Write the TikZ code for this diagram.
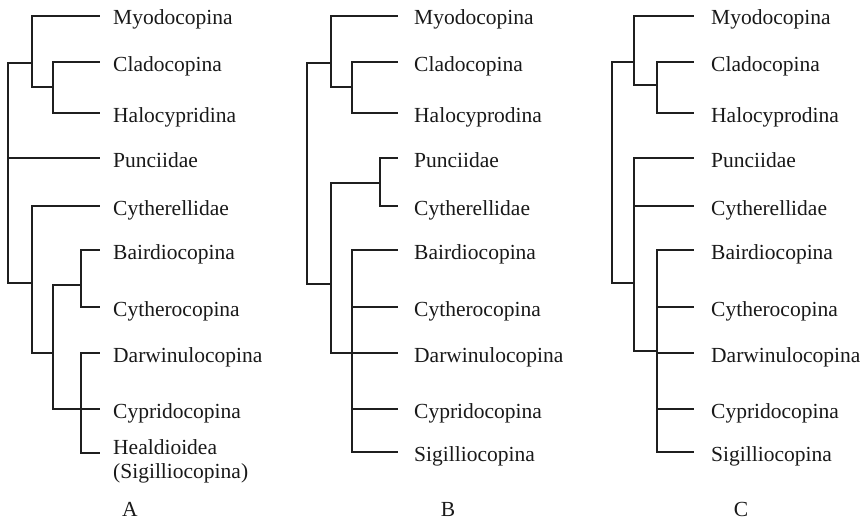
\documentclass[tikz,border=0pt]{standalone}
\usepackage{fontspec}
\setmainfont{Liberation Serif}
\begin{document}
\begin{tikzpicture}[x=1pt,y=-1pt,
  branch/.style={draw=black!88,line width=2.2pt,line cap=rect},
  leaf/.style={anchor=base west,inner sep=0pt,text=black!90,font=\fontsize{21.5}{24}\selectfont},
  panel/.style={anchor=base,inner sep=0pt,text=black!90,font=\fontsize{21.5}{24}\selectfont}]
\useasboundingbox (0,0) rectangle (865,519);
% ================= Tree A =================
\coordinate (Ar) at (8,158);
\coordinate (An1) at (32,63);
\coordinate (An2) at (53,87);
\coordinate (An3) at (32,283);
\coordinate (An4) at (53,353);
\coordinate (An5) at (81,285);
\coordinate (An6) at (81,409);
\coordinate (At1) at (99,16);
\coordinate (At2) at (99,62);
\coordinate (At3) at (99,113);
\coordinate (At4) at (99,158);
\coordinate (At5) at (99,206);
\coordinate (At6) at (99,250);
\coordinate (At7) at (99,307);
\coordinate (At8) at (99,353);
\coordinate (At9) at (99,409);
\coordinate (At10) at (99,453);
\node[leaf] (AL1) at (113,25) {Myodocopina};
\node[leaf] (AL2) at (113,71) {Cladocopina};
\node[leaf] (AL3) at (113,122) {Halocypridina};
\node[leaf] (AL4) at (113,167) {Punciidae};
\node[leaf] (AL5) at (113,215) {Cytherellidae};
\node[leaf] (AL6) at (113,259) {Bairdiocopina};
\node[leaf] (AL7) at (113,316) {Cytherocopina};
\node[leaf] (AL8) at (113,362) {Darwinulocopina};
\node[leaf] (AL9) at (113,418) {Cypridocopina};
\node[leaf] (AL10) at (113,454) {Healdioidea};
\node[leaf] (AL10b) at (113,478) {(Sigilliocopina)};
\draw[branch] (Ar) |- (An1);
\draw[branch] (Ar) |- (At4);
\draw[branch] (Ar) |- (An3);
\draw[branch] (An1) |- (At1);
\draw[branch] (An1) |- (An2);
\draw[branch] (An2) |- (At2);
\draw[branch] (An2) |- (At3);
\draw[branch] (An3) |- (At5);
\draw[branch] (An3) |- (An4);
\draw[branch] (An4) |- (An5);
\draw[branch] (An4) |- (An6);
\draw[branch] (An5) |- (At6);
\draw[branch] (An5) |- (At7);
\draw[branch] (An6) |- (At8);
\draw[branch] (An6) |- (At9);
\draw[branch] (An6) |- (At10);
\node[panel] (PA) at (130,516) {A};
% ================= Tree B =================
\coordinate (Br) at (307,173);
\coordinate (Bn1) at (331,63);
\coordinate (Bn2) at (352,87);
\coordinate (Bn3) at (331,284);
\coordinate (Bn7) at (380,183);
\coordinate (Bn8) at (352,353);
\coordinate (Bt1) at (397,16);
\coordinate (Bt2) at (397,62);
\coordinate (Bt3) at (397,113);
\coordinate (Bt4) at (397,158);
\coordinate (Bt5) at (397,206);
\coordinate (Bt6) at (397,250);
\coordinate (Bt7) at (397,307);
\coordinate (Bt8) at (397,353);
\coordinate (Bt9) at (397,409);
\coordinate (Bt10) at (397,452);
\node[leaf] (BL1) at (414,25) {Myodocopina};
\node[leaf] (BL2) at (414,71) {Cladocopina};
\node[leaf] (BL3) at (414,122) {Halocyprodina};
\node[leaf] (BL4) at (414,167) {Punciidae};
\node[leaf] (BL5) at (414,215) {Cytherellidae};
\node[leaf] (BL6) at (414,259) {Bairdiocopina};
\node[leaf] (BL7) at (414,316) {Cytherocopina};
\node[leaf] (BL8) at (414,362) {Darwinulocopina};
\node[leaf] (BL9) at (414,418) {Cypridocopina};
\node[leaf] (BL10) at (414,461) {Sigilliocopina};
\draw[branch] (Br) |- (Bn1);
\draw[branch] (Br) |- (Bn3);
\draw[branch] (Bn1) |- (Bt1);
\draw[branch] (Bn1) |- (Bn2);
\draw[branch] (Bn2) |- (Bt2);
\draw[branch] (Bn2) |- (Bt3);
\draw[branch] (Bn3) |- (Bn7);
\draw[branch] (Bn3) |- (Bn8);
\draw[branch] (Bn7) |- (Bt4);
\draw[branch] (Bn7) |- (Bt5);
\draw[branch] (Bn8) |- (Bt6);
\draw[branch] (Bn8) |- (Bt7);
\draw[branch] (Bn8) |- (Bt8);
\draw[branch] (Bn8) |- (Bt9);
\draw[branch] (Bn8) |- (Bt10);
\node[panel] (PB) at (448,516) {B};
% ================= Tree C =================
\coordinate (Cr) at (612,173);
\coordinate (Cn1) at (634,62);
\coordinate (Cn2) at (657,85);
\coordinate (Cn3) at (634,283);
\coordinate (Cn8) at (657,351);
\coordinate (Ct1) at (693,16);
\coordinate (Ct2) at (693,62);
\coordinate (Ct3) at (693,113);
\coordinate (Ct4) at (693,158);
\coordinate (Ct5) at (693,206);
\coordinate (Ct6) at (693,250);
\coordinate (Ct7) at (693,307);
\coordinate (Ct8) at (693,353);
\coordinate (Ct9) at (693,409);
\coordinate (Ct10) at (693,452);
\node[leaf] (CL1) at (711,25) {Myodocopina};
\node[leaf] (CL2) at (711,71) {Cladocopina};
\node[leaf] (CL3) at (711,122) {Halocyprodina};
\node[leaf] (CL4) at (711,167) {Punciidae};
\node[leaf] (CL5) at (711,215) {Cytherellidae};
\node[leaf] (CL6) at (711,259) {Bairdiocopina};
\node[leaf] (CL7) at (711,316) {Cytherocopina};
\node[leaf] (CL8) at (711,362) {Darwinulocopina};
\node[leaf] (CL9) at (711,418) {Cypridocopina};
\node[leaf] (CL10) at (711,461) {Sigilliocopina};
\draw[branch] (Cr) |- (Cn1);
\draw[branch] (Cr) |- (Cn3);
\draw[branch] (Cn1) |- (Ct1);
\draw[branch] (Cn1) |- (Cn2);
\draw[branch] (Cn2) |- (Ct2);
\draw[branch] (Cn2) |- (Ct3);
\draw[branch] (Cn3) |- (Ct4);
\draw[branch] (Cn3) |- (Ct5);
\draw[branch] (Cn3) |- (Cn8);
\draw[branch] (Cn8) |- (Ct6);
\draw[branch] (Cn8) |- (Ct7);
\draw[branch] (Cn8) |- (Ct8);
\draw[branch] (Cn8) |- (Ct9);
\draw[branch] (Cn8) |- (Ct10);
\node[panel] (PC) at (741,516) {C};
\end{tikzpicture}
\end{document}
